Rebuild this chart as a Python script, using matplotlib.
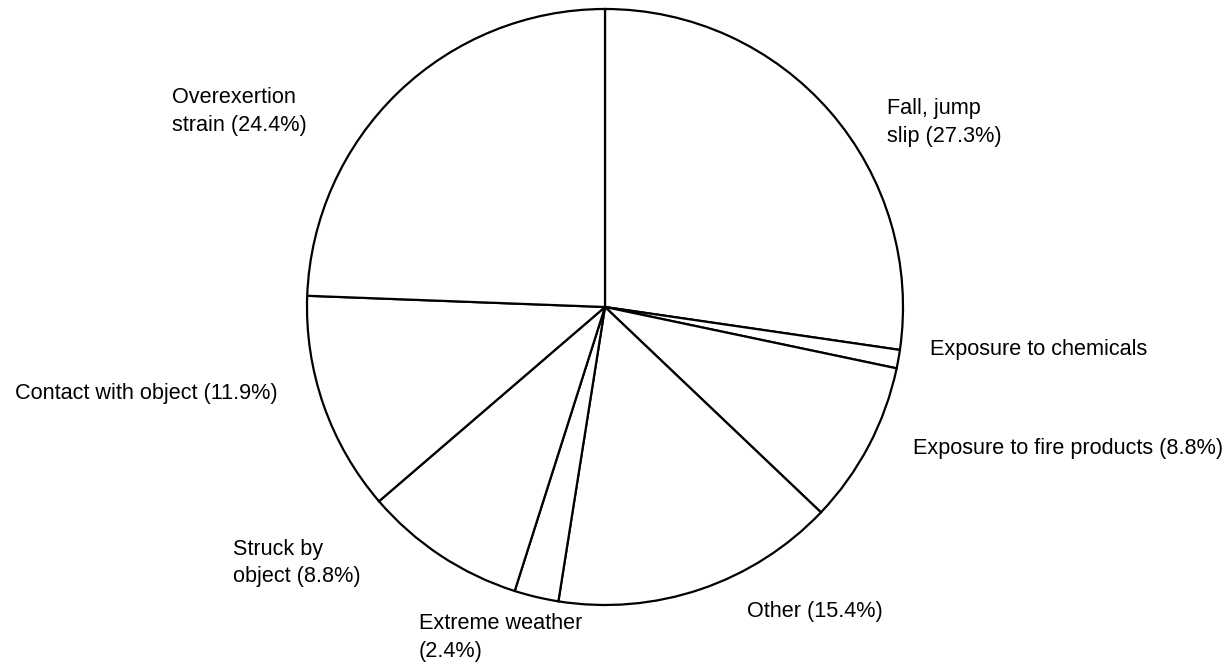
import matplotlib
matplotlib.use("Agg")
import matplotlib.pyplot as plt

# share of injuries by cause, clockwise from the top
causes = ["Fall, jump\nslip", "Exposure to chemicals", "Exposure to fire products",
          "Other", "Extreme weather\n", "Struck by\nobject", "Contact with object",
          "Overexertion\nstrain"]
shares = [27.3, 1.0, 8.8, 15.4, 2.4, 8.8, 11.9, 24.4]
show_pct = [True, False, True, True, True, True, True, True]

# label anchors (left edge, last baseline) in pie-radius units
label_xy = [(0.946, 0.555), (1.091, -0.161), (1.034, -0.493), (0.477, -1.040),
            (-0.624, -1.173), (-1.248, -0.924), (-1.980, -0.309), (-1.453, 0.592)]

plt.rcParams["font.family"] = ["Liberation Sans", "DejaVu Sans"]

fig = plt.figure(figsize=(12.32, 6.65), dpi=100)
ax = fig.add_axes([0, 0, 1, 1])

ax.pie(shares, startangle=90, counterclock=False, colors=["white"] * len(shares),
       wedgeprops=dict(edgecolor="black", linewidth=1.6))

for name, val, pct, (x, y) in zip(causes, shares, show_pct, label_xy):
    if not pct:
        txt = name
    elif name.endswith("\n"):
        txt = f"{name}({val}%)"
    else:
        txt = f"{name} ({val}%)"
    ax.text(x, y, txt, ha="left", va="baseline", fontsize=15.6, linespacing=1.4)

# radius 1 = 298 px, centre at (605, 307) px
ax.set_xlim(-605 / 298, (1232 - 605) / 298)
ax.set_ylim(-(665 - 307) / 298, 307 / 298)
ax.set_aspect("auto")
ax.axis("off")

fig.savefig("out.png", dpi=100)
